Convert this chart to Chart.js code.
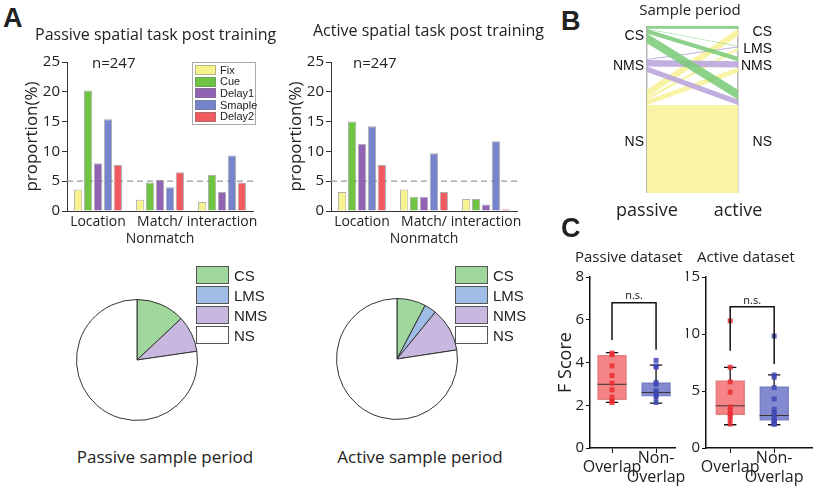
<!DOCTYPE html>
<html>
<head>
<meta charset="utf-8">
<script src="https://cdn.jsdelivr.net/npm/chart.js@4.4.0/dist/chart.umd.min.js"></script>
<style>
  body { margin: 0; background: #fff; }
  #fig { position: relative; width: 820px; height: 490px; overflow: hidden; font-family: 'Open Sans', sans-serif; color: #222; }
  #fig canvas { position: absolute; }
  .txt { position: absolute; white-space: nowrap; }
  .sw { position: absolute; box-sizing: border-box; }
</style>
</head>
<body>
<div id="fig"></div>
<script>
// ---- panel A: bar data (proportion %) ----
const barCategories = ['Location', ['Match/', 'Nonmatch'], 'interaction'];
const periodNames = ['Fix', 'Cue', 'Delay1', 'Smaple', 'Delay2'];
const periodColors = ['#f6f28e', '#70c444', '#9262b4', '#7683cd', '#f15a5f'];
const passiveFix = [3.6, 1.9, 1.5];
const passiveCue = [20.2, 4.8, 6.1];
const passiveDelay1 = [8.0, 5.2, 3.2];
const passiveSmaple = [15.4, 4.0, 9.3];
const passiveDelay2 = [7.7, 6.5, 4.8];
const activeFix = [3.2, 3.6, 2.0];
const activeCue = [15.0, 2.4, 2.0];
const activeDelay1 = [11.3, 2.4, 1.1];
const activeSmaple = [14.2, 9.7, 11.7];
const activeDelay2 = [7.7, 3.2, 0.3];
const chanceLevel = 5;

// ---- panel A: pies ----
const pieLabels = ['CS', 'LMS', 'NMS', 'NS'];
const pieColors = ['#9fd79c', '#9fbde6', '#c8b7de', '#ffffff'];
const passivePie = [13.0, 0, 9.7, 77.3];
const activePie = [7.7, 3.2, 11.7, 77.4];

// ---- panel B: flows passive -> active (neurons) ----
const leftStrata = ['CS', 'NMS', 'NS'];
const rightStrata = ['CS', 'LMS', 'NMS', 'NS'];
const flowFrom = ['CS', 'CS', 'CS', 'CS', 'NMS', 'NMS', 'NMS', 'NS', 'NS', 'NS', 'NS'];
const flowTo = ['CS', 'LMS', 'NMS', 'NS', 'LMS', 'NMS', 'NS', 'CS', 'LMS', 'NMS', 'NS'];
const flowCount = [5, 1, 8, 18, 2, 12, 10, 14, 5, 9, 163];
const leftGaps = [29, 33];
const rightGaps = [18, 12, 32];
const alluvialAxis = ['passive', 'active'];

// ---- panel C: box plots (F score) ----
const boxCats = ['Overlap', ['Non-', 'Overlap']];
const passiveQ1 = [2.25, 2.42];
const passiveQ3 = [4.35, 3.06];
const passiveMedian = [2.98, 2.6];
const passiveLow = [2.13, 2.1];
const passiveHigh = [4.46, 3.88];
const passiveOverlapPts = [4.44, 4.37, 3.84, 3.39, 3.03, 2.72, 2.38, 2.2, 2.13];
const passiveNonOverlapPts = [4.1, 3.84, 3.78, 3.06, 2.98, 2.68, 2.6, 2.48, 2.37, 2.13];
const passiveBracket = [5.05, 6.8, 4.6];
const activeQ1 = [2.91, 2.41];
const activeQ3 = [5.91, 5.39];
const activeMedian = [3.7, 2.85];
const activeLow = [2.04, 2.04];
const activeHigh = [7.08, 6.41];
const activeOverlapPts = [11.15, 7.08, 5.8, 4.9, 3.6, 3.3, 3.0, 2.8, 2.5, 2.1];
const activeNonOverlapPts = [9.82, 6.4, 6.2, 5.3, 4.3, 3.4, 3.1, 2.9, 2.6, 2.4, 2.3, 2.2, 2.1, 2.1];
const activeBracket = [8.53, 12.38, 7.37];

Chart.defaults.font.family = "'Open Sans', sans-serif";
Chart.defaults.color = '#222';
Chart.defaults.animation = false;
Chart.defaults.plugins.legend.display = false;
Chart.defaults.plugins.tooltip.enabled = false;

const fig = document.getElementById('fig');

function makeCanvas(left, top, w, h) {
  const c = document.createElement('canvas');
  c.width = w; c.height = h;
  c.style.left = left + 'px'; c.style.top = top + 'px';
  fig.appendChild(c);
  return c;
}

function addText(txt, x, cy, size, opts) {
  opts = opts || {};
  const d = document.createElement('div');
  d.className = 'txt';
  d.textContent = txt;
  d.style.fontSize = size + 'px';
  d.style.lineHeight = size + 'px';
  d.style.left = x + 'px';
  d.style.top = (cy - size / 2) + 'px';
  if (opts.family) d.style.fontFamily = opts.family;
  if (opts.bold) d.style.fontWeight = 'bold';
  if (opts.center) d.style.transform = 'translateX(-50%)';
  fig.appendChild(d);
}

// dashed chance line at y = chanceLevel, drawn behind the bars
const chanceLine = {
  id: 'chanceLine',
  beforeDatasetsDraw(chart) {
    const {ctx, chartArea, scales: {y}} = chart;
    const py = y.getPixelForValue(chanceLevel);
    ctx.save();
    ctx.strokeStyle = '#9a9a9a';
    ctx.lineWidth = 1.3;
    ctx.setLineDash([6, 4]);
    ctx.beginPath();
    ctx.moveTo(chartArea.left, py);
    ctx.lineTo(chartArea.right, py);
    ctx.stroke();
    ctx.restore();
  }
};

// bar charts (panel A)
function barChart(canvas, series) {
  return new Chart(canvas, {
    type: 'bar',
    data: {
      labels: barCategories,
      datasets: series.map((vals, i) => ({
        label: periodNames[i],
        data: vals,
        backgroundColor: periodColors[i],
        borderColor: 'rgba(110,110,110,0.55)',
        borderWidth: 1,
        categoryPercentage: 0.8,
        barPercentage: 0.83
      }))
    },
    plugins: [chanceLine],
    options: {
      responsive: false,
      layout: {padding: {left: 18, top: 22, right: 37, bottom: 0}},
      scales: {
        x: {
          grid: {display: false, drawTicks: false},
          border: {color: '#333'},
          ticks: {font: {size: 14}, padding: 3, maxRotation: 0, autoSkip: false},
          afterFit: s => { s.height = 49; }
        },
        y: {
          min: 0, max: 25,
          ticks: {stepSize: 5, font: {size: 15}, padding: 2},
          grid: {drawOnChartArea: false, tickLength: 5, color: '#333'},
          border: {color: '#333'},
          title: {display: true, text: 'proportion(%)', font: {size: 17}, padding: {top: 4, bottom: 0}},
          afterFit: s => { s.width = 49; }
        }
      }
    }
  });
}

barChart(makeCanvas(0, 40, 290, 220), [passiveFix, passiveCue, passiveDelay1, passiveSmaple, passiveDelay2]);
barChart(makeCanvas(264, 40, 290, 220), [activeFix, activeCue, activeDelay1, activeSmaple, activeDelay2]);

// bar legend (passive chart)
(function () {
  const box = document.createElement('div');
  box.className = 'sw';
  Object.assign(box.style, {left: '192px', top: '62px', width: '64px', height: '63px', border: '1px solid #aaa', background: '#fff'});
  fig.appendChild(box);
  periodNames.forEach((n, i) => {
    const s = document.createElement('div');
    s.className = 'sw';
    Object.assign(s.style, {left: '195px', top: (65 + i * 11.7) + 'px', width: '21px', height: '10px', background: periodColors[i], border: '1px solid rgba(120,120,120,0.5)'});
    fig.appendChild(s);
    addText(n, 220, 70 + i * 11.7, 11, {family: "'Liberation Sans', Arial, sans-serif"});
  });
})();

// pies
function pieChart(canvas, values) {
  return new Chart(canvas, {
    type: 'pie',
    data: {labels: pieLabels, datasets: [{data: values, backgroundColor: pieColors, borderColor: '#333', borderWidth: 1}]},
    options: {responsive: false, layout: {padding: 4}}
  });
}
pieChart(makeCanvas(72, 295, 130, 130), passivePie);
pieChart(makeCanvas(332, 294, 130, 130), activePie);

function pieLegend(left) {
  pieLabels.forEach((n, i) => {
    const s = document.createElement('div');
    s.className = 'sw';
    Object.assign(s.style, {left: left + 'px', top: (266 + i * 20) + 'px', width: '33px', height: '18px', background: pieColors[i], border: '1.5px solid #555'});
    fig.appendChild(s);
    addText(n, left + 38, 275 + i * 20, 15, {family: "'Liberation Sans', Arial, sans-serif"});
  });
}
pieLegend(196);
pieLegend(455);

// alluvial (panel B)
(function () {
  const leftSize = {}, rightSize = {};
  flowCount.forEach((c, k) => {
    leftSize[flowFrom[k]] = (leftSize[flowFrom[k]] || 0) + c;
    rightSize[flowTo[k]] = (rightSize[flowTo[k]] || 0) + c;
  });
  function starts(names, sizes, gaps) {
    const st = {}; let pos = 0;
    names.forEach((n, i) => { st[n] = pos; pos += sizes[n] + (gaps[i] || 0); });
    st._total = pos;
    return st;
  }
  const lStart = starts(leftStrata, leftSize, leftGaps);
  const rStart = starts(rightStrata, rightSize, rightGaps);
  const lCur = Object.assign({}, lStart), rCur = Object.assign({}, rStart);
  const flowColors = {CS: 'rgba(125,204,122,0.88)', NMS: 'rgba(186,166,221,0.9)', NS: 'rgba(248,242,160,0.95)'};
  const ds = [];
  flowCount.forEach((c, k) => {
    const a = lCur[flowFrom[k]], b = rCur[flowTo[k]];
    lCur[flowFrom[k]] += c; rCur[flowTo[k]] += c;
    ds.push({data: [{x: 0, y: a}, {x: 1, y: b}], borderColor: 'rgba(0,0,0,0)', borderWidth: 0, pointRadius: 0, fill: false});
    ds.push({data: [{x: 0, y: a + c}, {x: 1, y: b + c}], borderColor: 'rgba(0,0,0,0)', borderWidth: 0, pointRadius: 0,
             fill: '-1', backgroundColor: flowColors[flowFrom[k]]});
  });
  const labelPlugin = {
    id: 'strataLabels',
    afterDraw(chart) {
      const {ctx, scales: {x, y}} = chart;
      ctx.save();
      ctx.font = "14px 'Liberation Sans', Arial, sans-serif";
      ctx.fillStyle = '#111';
      ctx.textAlign = 'right';
      ctx.textBaseline = 'middle';
      leftStrata.forEach(n => {
        ctx.fillText(n, x.getPixelForValue(0) - 3, y.getPixelForValue(lStart[n] + leftSize[n] / 2) + 1);
      });
      rightStrata.forEach(n => {
        ctx.fillText(n, x.getPixelForValue(1) + 34, y.getPixelForValue(rStart[n] + rightSize[n] / 2) + 1);
      });
      ctx.restore();
    }
  };
  new Chart(makeCanvas(600, 0, 220, 225), {
    type: 'line',
    data: {datasets: ds},
    plugins: [labelPlugin],
    options: {
      responsive: false,
      layout: {padding: {left: 47, top: 26, right: 82, bottom: 0}},
      scales: {
        x: {
          type: 'linear', min: 0, max: 1,
          ticks: {stepSize: 1, font: {size: 18}, padding: 7, callback: v => alluvialAxis[v]},
          grid: {color: '#b5b5b5', lineWidth: 1.5, drawTicks: false},
          border: {display: false},
          afterFit: s => { s.height = 32; }
        },
        y: {type: 'linear', reverse: true, min: 0, max: lStart._total, display: false}
      }
    }
  });
})();

// box plots (panel C)
function boxChart(canvas, o) {
  const hw = 0.33, cw = 0.14;
  const whisk = [], med = [];
  [0, 1].forEach(i => {
    whisk.push({x: i, y: o.q3[i]}, {x: i, y: o.hi[i]}, {x: i, y: null},
               {x: i - cw, y: o.hi[i]}, {x: i + cw, y: o.hi[i]}, {x: i, y: null},
               {x: i, y: o.lo[i]}, {x: i, y: o.q1[i]}, {x: i, y: null},
               {x: i - cw, y: o.lo[i]}, {x: i + cw, y: o.lo[i]}, {x: i, y: null});
    med.push({x: i - hw, y: o.med[i]}, {x: i + hw, y: o.med[i]}, {x: i, y: null});
  });
  const nsPlugin = {
    id: 'nsLabel',
    afterDatasetsDraw(chart) {
      const {ctx, scales: {x, y}} = chart;
      ctx.save();
      ctx.font = "11px 'Open Sans', sans-serif";
      ctx.fillStyle = '#111';
      ctx.textAlign = 'center';
      ctx.textBaseline = 'bottom';
      ctx.fillText('n.s.', x.getPixelForValue(0.5), y.getPixelForValue(o.bracket[1]) - 1);
      ctx.restore();
    }
  };
  return new Chart(canvas, {
    type: 'bar',
    data: {
      datasets: [
        {type: 'line', data: [{x: 0, y: o.bracket[0]}, {x: 0, y: o.bracket[1]}, {x: 1, y: o.bracket[1]}, {x: 1, y: o.bracket[2]}],
         borderColor: '#111', borderWidth: 1.5, pointRadius: 0, order: 0},
        {type: 'scatter', data: o.ptsA.map(v => ({x: 0, y: v})), pointStyle: 'rect', radius: 3.5,
         backgroundColor: 'rgba(236,45,50,0.85)', borderWidth: 0, order: 1},
        {type: 'scatter', data: o.ptsB.map(v => ({x: 1, y: v})), pointStyle: 'rect', radius: 3.5,
         backgroundColor: 'rgba(62,72,180,0.85)', borderWidth: 0, order: 1},
        {type: 'line', data: med, borderColor: '#3a3030', borderWidth: 1, pointRadius: 0, order: 2},
        {type: 'line', data: whisk, borderColor: '#111', borderWidth: 1.3, pointRadius: 0, order: 3},
        {data: [{x: 0, y: [o.q1[0], o.q3[0]]}, {x: 1, y: [o.q1[1], o.q3[1]]}],
         backgroundColor: ['rgba(242,110,112,0.85)', 'rgba(110,118,200,0.85)'],
         borderColor: ['rgba(200,90,90,0.7)', 'rgba(80,90,170,0.7)'],
         borderWidth: 1, borderSkipped: false, barThickness: 29, order: 5}
      ]
    },
    plugins: [nsPlugin],
    options: {
      responsive: false,
      layout: {padding: o.pad},
      scales: {
        x: {
          type: 'linear', min: o.xMin, max: o.xMax, offset: false,
          afterBuildTicks: s => { s.ticks = [{value: 0}, {value: 1}]; },
          ticks: {callback: v => boxCats[v], font: {size: 16}, padding: 5, autoSkip: false, maxRotation: 0, crossAlign: 'center'},
          grid: {drawOnChartArea: false, tickLength: 5, color: '#111', offset: false},
          border: {color: '#111', width: 1.5},
          afterFit: s => { s.height = 42; }
        },
        y: {
          min: 0, max: o.yMax,
          ticks: {stepSize: o.yStep, font: {size: 15}, padding: 2},
          grid: {drawOnChartArea: false, tickLength: 4, color: '#111'},
          border: {color: '#111', width: 1.5},
          title: {display: !!o.yTitle, text: o.yTitle, font: {size: 18}, padding: 0},
          afterFit: s => { s.width = o.yWidth; }
        }
      }
    }
  });
}

boxChart(makeCanvas(555, 262, 140, 228), {
  q1: passiveQ1, q3: passiveQ3, med: passiveMedian, lo: passiveLow, hi: passiveHigh,
  ptsA: passiveOverlapPts, ptsB: passiveNonOverlapPts, bracket: passiveBracket,
  yMax: 8, yStep: 2, xMin: -0.5, xMax: 1.43, yTitle: 'F Score', yWidth: 35,
  pad: {left: 0, top: 15, right: 20, bottom: 0}
});
boxChart(makeCanvas(680, 262, 140, 228), {
  q1: activeQ1, q3: activeQ3, med: activeMedian, lo: activeLow, hi: activeHigh,
  ptsA: activeOverlapPts, ptsB: activeNonOverlapPts, bracket: activeBracket,
  yMax: 15, yStep: 5, xMin: -0.55, xMax: 1.86, yTitle: '', yWidth: 20,
  pad: {left: 6, top: 15, right: 8, bottom: 0}
});

// static texts
const bold = {family: "'Liberation Sans', Arial, sans-serif", bold: true};
addText('A', 3, 18, 27, bold);
addText('B', 561, 21, 27, bold);
addText('C', 561, 228, 27, bold);
addText('Passive spatial task post training', 35, 34, 16);
addText('Active spatial task post training', 313, 30, 16);
addText('n=247', 92, 62, 15);
addText('n=247', 353, 62, 15);
addText('Sample period', 690, 9, 15, {center: true});
addText('Passive sample period', 165, 456, 17, {center: true});
addText('Active sample period', 420, 456, 17, {center: true});
addText('Passive dataset', 575, 256, 15);
addText('Active dataset', 697, 256, 15);
</script>
</body>
</html>
